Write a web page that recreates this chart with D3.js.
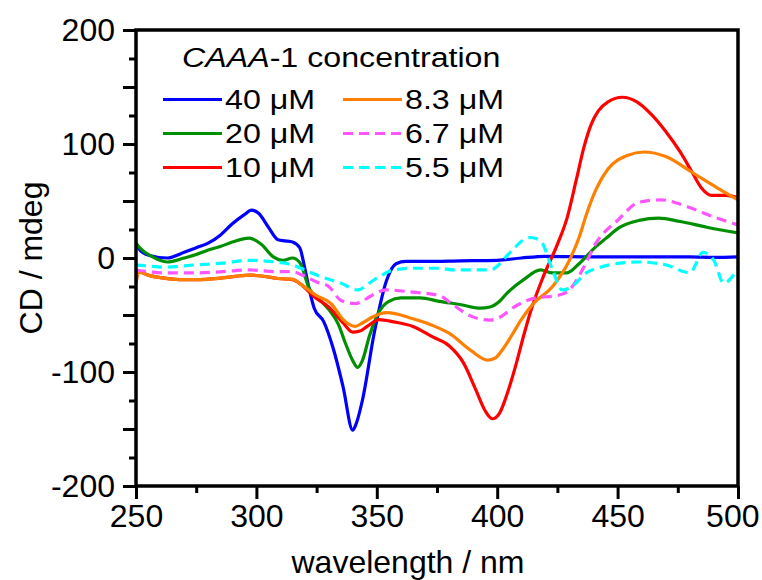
<!DOCTYPE html>
<html>
<head>
<meta charset="utf-8">
<script src="https://cdn.jsdelivr.net/npm/d3@7"></script>
<style>
  body { margin: 0; background: #fff; }
  svg { display: block; font-family: "Liberation Sans", Arial, Helvetica, sans-serif; }
</style>
</head>
<body>
<script>
// CD spectra, CAAA-1 concentration series; [wavelength nm, CD mdeg]
var cd40 = [[250,13],[252,6],[256,2],[263,0],[270,5],[275,9],[280,13],[285,20],[290,30],[295,38],[298,42],[301,39],
  [305,27],[309,16],[312,15],[315,14],[318,9],[320,-8],[322,-28],[324,-44],[328,-56],[332,-80],[336,-113],[340,-151],
  [341.5,-145],[344,-125],[349,-65],[354,-20],[358,-5],[362,-3],[370,-3],[385,-2.5],[400,-2],[410,0],[420,1.5],
  [440,1],[460,1],[480,1],[490,0.5],[500,1]];
var cd20 = [[250,13],[252,8],[256,2],[263,-3.5],[270,0],[275,3],[280,7],[285,10],[290,14],[297,17.5],[302,12],
  [307,1],[311,-2],[315,0],[318,-4],[322,-27],[326,-36],[330,-45],[334,-58],[337,-75],[340,-90],[342,-96],[344,-90],
  [347,-68],[351,-47],[355,-38],[360,-35],[368,-35],[376,-38],[385,-41],[393,-44],[397,-43],[401,-38],[404,-31],
  [411,-19],[418,-10.5],[423,-13],[429,-13],[434,-5],[441,10],[445,17],[451,27],[459,33],[467,35],[476,32],[487,27],[500,22]];
var cd10 = [[250,-22],[251,-12],[255,-15],[261,-17.5],[268,-19],[275,-19],[286,-17.5],[297,-15],[303,-16],[309,-18],
  [315,-19],[319,-24],[324,-34],[330,-43],[336,-57],[340,-65],[343,-64],[346,-60],[351,-54],[357,-56],[365,-60],
  [373,-69],[380,-77],[386,-92],[391,-115],[395,-134],[398,-141],[401,-136],[404,-120],[408,-92],[411,-68],[414,-46],
  [419,-17],[425,12],[429,35],[433,70],[436,97],[439,117],[442,129],[446,137],[452,141],[458,137],[464,126],
  [470,111],[476,93],[481,75],[485,61],[489,55],[495,55],[500,53]];
var cd8_3 = [[250,-22],[251,-12],[255,-15],[261,-17.5],[268,-19],[275,-19],[286,-17.5],[297,-15],[303,-16],[309,-18],
  [315,-18.5],[319,-24],[325,-33],[331,-40],[336,-54],[341,-60],[344,-57],[348,-52],[354,-48],[358,-49],[363,-52],
  [373,-59],[380,-66],[389,-81],[396,-89.5],[399,-88],[402,-81],[406,-68],[410,-54],[415,-40],[423,-25],[430,-2],
  [434,18],[437,38],[441,60],[446,78],[454,90],[461,93],[470,89],[481,75],[491,62],[500,51]];
var cd6_7 = [[250,-10.5],[255,-12],[261,-13],[275,-13],[286,-12],[297,-10.5],[308,-12],[315,-12],[319,-15],[325,-21],
  [330,-25],[335,-37],[341,-40],[344,-38],[347,-34],[354,-28],[365,-30],[376,-33],[381,-40],[389,-51],[397,-54.5],
  [401,-52],[407,-43],[416,-35],[425,-33],[430,-28],[436,-8],[441,13],[450,33],[459,49],[468,51],[479,45],[490,36],[500,29]];
var cd5_5 = [[250,-6],[255,-7],[261,-8],[275,-6],[286,-4.5],[297,-2],[308,-3.5],[315,-6],[320,-10.5],[327,-16.5],
  [335,-22],[342,-28],[349,-19],[357,-10.5],[365,-9],[376,-9],[382,-10.5],[397,-10.5],[405,4],[411,16],[414,18],
  [418,15],[423,-10.5],[427,-28],[431,-25],[437,-13],[443,-8],[451,-4.5],[459,-3.5],[470,-6],[480,-13],[485.5,5],
  [490,-2],[494,-22],[500,-9]];

var seriesNames = ["40 μM", "20 μM", "10 μM", "8.3 μM", "6.7 μM", "5.5 μM"];
var seriesData = [cd40, cd20, cd10, cd8_3, cd6_7, cd5_5];
var seriesColors = ["#0000ff", "#008f00", "#ff0000", "#ff8000", "#ff55ff", "#00ffff"];
var seriesDashed = [false, false, false, false, true, true];

var xTicks = [250, 300, 350, 400, 450, 500];
var xMinor = [275, 325, 375, 425, 475];
var yTicks = [-200, -100, 0, 100, 200];
var yMid = [-150, -50, 50, 150];
var yMinor = [-175, -125, -75, -25, 25, 75, 125, 175];

var width = 762, height = 580;
var plotLeft = 136, plotRight = 738, plotTop = 30, plotBottom = 486;

var svg = d3.select("body").append("svg")
  .attr("width", width)
  .attr("height", height);

var x = d3.scaleLinear().domain([250, 500]).range([plotLeft, plotRight]);
var y = d3.scaleLinear().domain([-200, 200]).range([plotBottom, plotTop]);

svg.append("defs").append("clipPath").attr("id", "plotclip")
  .append("rect")
  .attr("x", plotLeft).attr("y", plotTop)
  .attr("width", plotRight - plotLeft).attr("height", plotBottom - plotTop);

// data
var line = d3.line()
  .x(function(d) { return x(d[0]); })
  .y(function(d) { return y(d[1]); })
  .curve(d3.curveMonotoneX);

var plot = svg.append("g").attr("clip-path", "url(#plotclip)");
for (var i = 0; i < seriesData.length; i++) {
  plot.append("path")
    .attr("d", line(seriesData[i]))
    .attr("fill", "none")
    .attr("stroke", seriesColors[i])
    .attr("stroke-width", 3.2)
    .attr("stroke-linejoin", "round")
    .attr("stroke-dasharray", seriesDashed[i] ? "10,6" : null);
}

// axes, plain hyphen for negatives
function plain(d) { return String(d); }

function styleAxis(g) {
  g.select(".domain").remove();
  g.selectAll(".tick line").attr("stroke", "#000").attr("stroke-width", 3);
  g.selectAll(".tick text").attr("fill", "#000").style("font-size", "32px");
}

var xAxisG = svg.append("g")
  .attr("transform", "translate(0," + plotBottom + ")")
  .call(d3.axisBottom(x).tickValues(xTicks).tickSize(13).tickPadding(5).tickFormat(plain))
  .call(styleAxis);
// last label sits against the right edge of the page
xAxisG.selectAll(".tick text").filter(function(d) { return d == 500; })
  .attr("text-anchor", "end")
  .attr("x", 21);

svg.append("g")
  .attr("transform", "translate(0," + plotBottom + ")")
  .call(d3.axisBottom(x).tickValues(xMinor).tickSize(7).tickFormat(""))
  .call(styleAxis);

svg.append("g")
  .attr("transform", "translate(" + plotLeft + ",0)")
  .call(d3.axisLeft(y).tickValues(yTicks).tickSize(13).tickPadding(8).tickFormat(plain))
  .call(styleAxis);
svg.append("g")
  .attr("transform", "translate(" + plotLeft + ",0)")
  .call(d3.axisLeft(y).tickValues(yMid).tickSize(13).tickFormat(""))
  .call(styleAxis);
svg.append("g")
  .attr("transform", "translate(" + plotLeft + ",0)")
  .call(d3.axisLeft(y).tickValues(yMinor).tickSize(7).tickFormat(""))
  .call(styleAxis);

svg.append("rect")
  .attr("x", plotLeft).attr("y", plotTop)
  .attr("width", plotRight - plotLeft).attr("height", plotBottom - plotTop)
  .attr("fill", "none")
  .attr("stroke", "#000")
  .attr("stroke-width", 3.5);

// axis titles
svg.append("text")
  .attr("x", 408).attr("y", 573)
  .attr("text-anchor", "middle")
  .style("font-size", "32px")
  .text("wavelength / nm");

svg.append("text")
  .attr("transform", "translate(42," + ((plotTop + plotBottom) / 2) + ") rotate(-90)")
  .attr("text-anchor", "middle")
  .style("font-size", "32px")
  .text("CD / mdeg");

// legend
var legend = svg.append("g");
var title = legend.append("text")
  .attr("transform", "translate(182,67) scale(1.15,1)")
  .style("font-size", "28px");
title.append("tspan").style("font-style", "italic").text("CAAA");
title.append("tspan").text("-1 concentration");

for (var i = 0; i < seriesNames.length; i++) {
  var col = Math.floor(i / 3), row = i % 3;
  var lx = col == 0 ? 163 : 343;
  var ly = 99.5 + row * 34;
  legend.append("line")
    .attr("x1", lx).attr("x2", lx + 59)
    .attr("y1", ly).attr("y2", ly)
    .attr("stroke", seriesColors[i])
    .attr("stroke-width", 3.2)
    .attr("stroke-dasharray", seriesDashed[i] ? "10,6" : null);
  legend.append("text")
    .attr("transform", "translate(" + (lx + 62) + "," + (ly + 9.5) + ") scale(1.15,1)")
    .style("font-size", "28px")
    .text(seriesNames[i]);
}
</script>
</body>
</html>
